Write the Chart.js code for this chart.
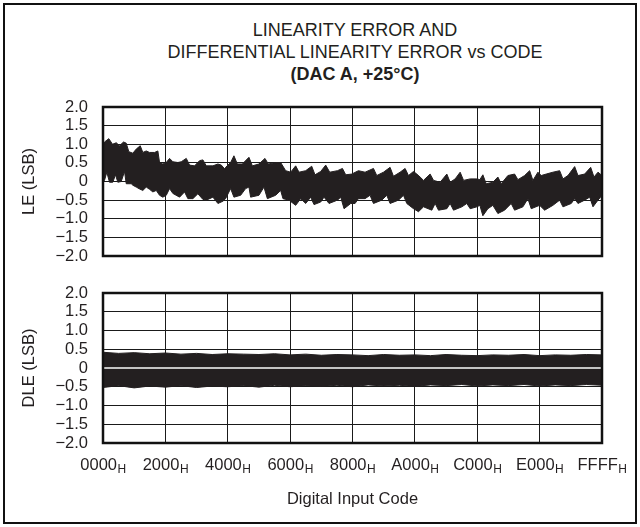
<!DOCTYPE html>
<html><head><meta charset="utf-8">
<script src="https://cdn.jsdelivr.net/npm/chart.js@4.4.1/dist/chart.umd.min.js"></script>
<style>
html,body{margin:0;padding:0;background:#fff;}
body{width:640px;height:527px;position:relative;overflow:hidden;font-family:"Liberation Sans",Arial,sans-serif;color:#231f20;}
#frame{position:absolute;left:3px;top:3px;width:630px;height:517px;border:2px solid #111;}
#title{position:absolute;left:105px;width:500px;top:19px;text-align:center;font-size:18px;line-height:22px;}
#xtitle{position:absolute;left:103px;width:499px;top:488px;text-align:center;font-size:16.5px;line-height:20px;}
canvas{position:absolute;left:0;}
</style></head>
<body>
<div id="frame"></div>
<div id="title">LINEARITY ERROR AND<br>DIFFERENTIAL LINEARITY ERROR vs CODE<br><b>(DAC A, +25°C)</b></div>
<canvas id="le" width="640" height="175" style="top:95px"></canvas>
<canvas id="dle" width="640" height="245" style="top:280px"></canvas>
<div id="xtitle">Digital Input Code</div>
<script>
// ---- axis ticks ----
const xTickCodes = [0, 8192, 16384, 24576, 32768, 40960, 49152, 57344, 65535];
const xTickLabels = ['0000','2000','4000','6000','8000','A000','C000','E000','FFFF'];
const xTickSuffix = 'H';
const yTickValues = [-2, -1.5, -1, -0.5, 0, 0.5, 1, 1.5, 2];
const yTickLabels = ['\u22122.0','\u22121.5','\u22121.0','\u22120.5','0','0.5','1.0','1.5','2.0'];

// ---- LE envelope (upper / lower edge of the band) ----
const leUpperCodes = [0,197,762,1249,1735,2169,2695,3050,3392,3918,4365,4890,5232,5679,6113,6770,7204,7427,7861,8308,8742,9176,9833,10280,10937,11371,12028,12686,13120,13567,14434,15092,15539,15972,16104,16762,17196,17642,18299,19167,19614,20481,21270,21717,22677,23334,23992,24649,25306,25740,26621,27410,27844,28593,29250,29776,30788,31446,31880,32668,33549,34417,35521,35955,36835,37703,38150,39017,39675,40121,40778,41212,41646,42093,42961,43408,44276,45156,45590,46248,46905,47352,48220,49100,49495,49889,50323,51204,51861,52295,53176,54057,54491,55372,56029,56463,57120,57554,58211,59092,59973,60407,61064,61945,62378,63259,64048,64482,65008,65535];
const leUpper = [0.95,1.06,1.15,1.0,1.04,0.96,1.06,1.03,0.8,0.76,0.87,0.96,0.78,0.82,0.78,0.78,0.82,0.51,0.47,0.51,0.62,0.53,0.51,0.53,0.62,0.44,0.42,0.56,0.58,0.42,0.42,0.47,0.44,0.34,0.38,0.51,0.69,0.47,0.47,0.65,0.42,0.47,0.62,0.47,0.51,0.51,0.29,0.25,0.42,0.25,0.29,0.41,0.18,0.27,0.44,0.25,0.29,0.35,0.18,0.2,0.29,0.25,0.35,0.16,0.25,0.38,0.14,0.25,0.35,0.16,0.27,0.2,0.12,0.03,0.2,0.03,-0.02,0.2,-0.02,0.07,0.25,0.03,0.07,0.07,0.05,0.18,-0.06,-0.02,0.12,-0.06,0.16,0.2,0.05,0.16,0.29,0.03,0.25,0.16,0.2,0.25,0.29,0.07,0.16,0.4,0.16,0.2,0.38,0.12,0.25,0.16];
const leLowerCodes = [0,197,500,854,1288,1643,1946,2393,2826,3050,3707,3918,4365,4798,5232,5679,6113,6547,6994,7427,7861,8308,8742,9176,10057,10714,11148,11805,12463,13120,13567,14434,15092,15749,16104,16762,17196,18076,18733,19167,19390,20481,21139,21586,22677,23334,23637,24426,25306,25963,26621,27278,27712,28593,29027,29684,30788,31222,31656,32537,33102,33549,34417,35074,35521,36612,37270,37703,38807,39465,39898,40778,41436,42093,43185,43619,44066,45156,45590,46037,47128,47786,48220,49100,49495,49889,50547,51204,51861,52742,53610,54057,55148,55805,56239,57343,58000,59092,59973,60407,61498,61945,62378,63259,63917,64351,65008,65535];
const leLower = [0.0,0.03,0.25,-0.02,-0.02,0.18,-0.02,0.0,0.27,-0.06,-0.06,-0.1,-0.15,-0.2,-0.24,-0.15,-0.21,-0.28,-0.24,-0.37,-0.42,-0.37,-0.19,-0.32,-0.42,-0.28,-0.46,-0.46,-0.33,-0.48,-0.5,-0.42,-0.59,-0.53,-0.46,-0.19,-0.42,-0.37,-0.19,-0.15,-0.42,-0.37,-0.15,-0.46,-0.37,-0.24,-0.46,-0.5,-0.64,-0.46,-0.59,-0.42,-0.62,-0.55,-0.42,-0.59,-0.5,-0.42,-0.73,-0.59,-0.59,-0.46,-0.46,-0.37,-0.59,-0.5,-0.37,-0.59,-0.5,-0.37,-0.59,-0.73,-0.81,-0.68,-0.77,-0.59,-0.77,-0.73,-0.59,-0.77,-0.68,-0.59,-0.73,-0.68,-0.64,-0.92,-0.73,-0.64,-0.86,-0.77,-0.59,-0.77,-0.68,-0.46,-0.73,-0.64,-0.77,-0.64,-0.5,-0.68,-0.59,-0.46,-0.59,-0.5,-0.42,-0.68,-0.5,-0.37];

// ---- DLE envelope ----
const dleCodes = [0,2048,4096,6144,8192,10240,12288,14336,16384,18432,20480,22528,24576,26624,28672,30720,32768,34816,36864,38912,40960,43008,45056,47104,49152,51200,53248,55296,57344,59392,61440,63488,65535];
const dleUpper = [0.42,0.39,0.41,0.38,0.40,0.37,0.39,0.36,0.38,0.37,0.36,0.38,0.35,0.37,0.34,0.36,0.35,0.33,0.36,0.34,0.35,0.33,0.36,0.34,0.33,0.35,0.34,0.36,0.33,0.35,0.34,0.36,0.35];
const dleLower = [-0.52,-0.47,-0.53,-0.48,-0.51,-0.47,-0.52,-0.48,-0.50,-0.47,-0.51,-0.46,-0.50,-0.47,-0.49,-0.46,-0.50,-0.45,-0.48,-0.46,-0.49,-0.45,-0.47,-0.44,-0.48,-0.45,-0.47,-0.44,-0.48,-0.45,-0.47,-0.44,-0.46];
const dleMidCodes = [0, 65535];
const dleMid = [0, 0];

const FONT = '"Liberation Sans", Arial, sans-serif';
const INK = '#231f20';
const BAND = '#231f20';
const GRID = '#1a1a1a';

function pts(xs, ys) { return xs.map((x, i) => ({ x: x, y: ys[i] })); }
// closed band outline: upper edge left->right, then lower edge right->left
function band(ux, uy, lx, ly) { return pts(ux, uy).concat(pts(lx, ly).reverse()); }

const framePlugin = {
  id: 'plotFrame',
  afterDatasetsDraw(chart) {
    const { ctx, chartArea: a } = chart;
    ctx.save();
    ctx.strokeStyle = '#111';
    ctx.lineWidth = 2.5;
    ctx.strokeRect(a.left, a.top, a.right - a.left, a.bottom - a.top);
    ctx.restore();
  }
};

const xLabelPlugin = {
  id: 'xLabels',
  afterDraw(chart) {
    const { ctx, chartArea: a, scales } = chart;
    const x = scales.x;
    ctx.save();
    ctx.fillStyle = INK;
    ctx.textBaseline = 'alphabetic';
    ctx.textAlign = 'left';
    xTickCodes.forEach((c, i) => {
      const px = x.getPixelForValue(c);
      ctx.font = '16.5px ' + FONT;
      const w1 = ctx.measureText(xTickLabels[i]).width;
      ctx.font = '12px ' + FONT;
      const w2 = ctx.measureText(xTickSuffix).width;
      const sx = px - (w1 + w2) / 2;
      ctx.font = '16.5px ' + FONT;
      ctx.fillText(xTickLabels[i], sx, a.bottom + 27);
      ctx.font = '12px ' + FONT;
      ctx.fillText(xTickSuffix, sx + w1 + 0.5, a.bottom + 30);
    });
    ctx.restore();
  }
};

function makeOptions(yTitle, pad) {
  return {
    responsive: false,
    animation: false,
    devicePixelRatio: 1,
    layout: { padding: pad },
    plugins: { legend: { display: false }, tooltip: { enabled: false }, title: { display: false } },
    elements: { point: { radius: 0 }, line: { tension: 0 } },
    scales: {
      x: {
        type: 'linear', min: 0, max: 65535,
        afterBuildTicks: s => { s.ticks = xTickCodes.map(v => ({ value: v })); },
        afterFit: s => { s.height = 0; },
        ticks: { display: false },
        grid: { color: GRID, lineWidth: 1, drawTicks: false },
        border: { display: false }
      },
      y: {
        type: 'linear', min: -2, max: 2,
        afterBuildTicks: s => { s.ticks = yTickValues.map(v => ({ value: v })); },
        afterFit: s => { s.width = 103; },
        ticks: {
          autoSkip: false,
          callback: (v, i) => yTickLabels[i],
          font: { family: FONT, size: 16.5 },
          color: INK,
          padding: 0
        },
        grid: { color: GRID, lineWidth: 1, drawTicks: true, tickLength: 15, tickColor: 'rgba(0,0,0,0)' },
        border: { display: false },
        title: {
          display: true, text: yTitle,
          font: { family: FONT, size: 16.5 },
          color: INK,
          padding: { top: 20, bottom: 0 }
        }
      }
    }
  };
}

new Chart(document.getElementById('le'), {
  type: 'line',
  data: {
    datasets: [
      { label: 'LE', data: band(leUpperCodes, leUpper, leLowerCodes, leLower), borderColor: BAND, backgroundColor: BAND, borderWidth: 1, fill: 'shape', pointRadius: 0 }
    ]
  },
  options: makeOptions('LE (LSB)', { top: 12, right: 38, bottom: 14, left: 0 }),
  plugins: [framePlugin]
});

new Chart(document.getElementById('dle'), {
  type: 'line',
  data: {
    datasets: [
      { label: 'DLE zero', data: pts(dleMidCodes, dleMid), borderColor: '#c4c4c4', borderWidth: 2, fill: false, pointRadius: 0, order: -1 },
      { label: 'DLE', data: band(dleCodes, dleUpper, dleCodes, dleLower), borderColor: BAND, backgroundColor: BAND, borderWidth: 1, fill: 'shape', pointRadius: 0, order: 1 }
    ]
  },
  options: makeOptions('DLE (LSB)', { top: 13, right: 38, bottom: 82, left: 0 }),
  plugins: [framePlugin, xLabelPlugin]
});
</script>
</body></html>
